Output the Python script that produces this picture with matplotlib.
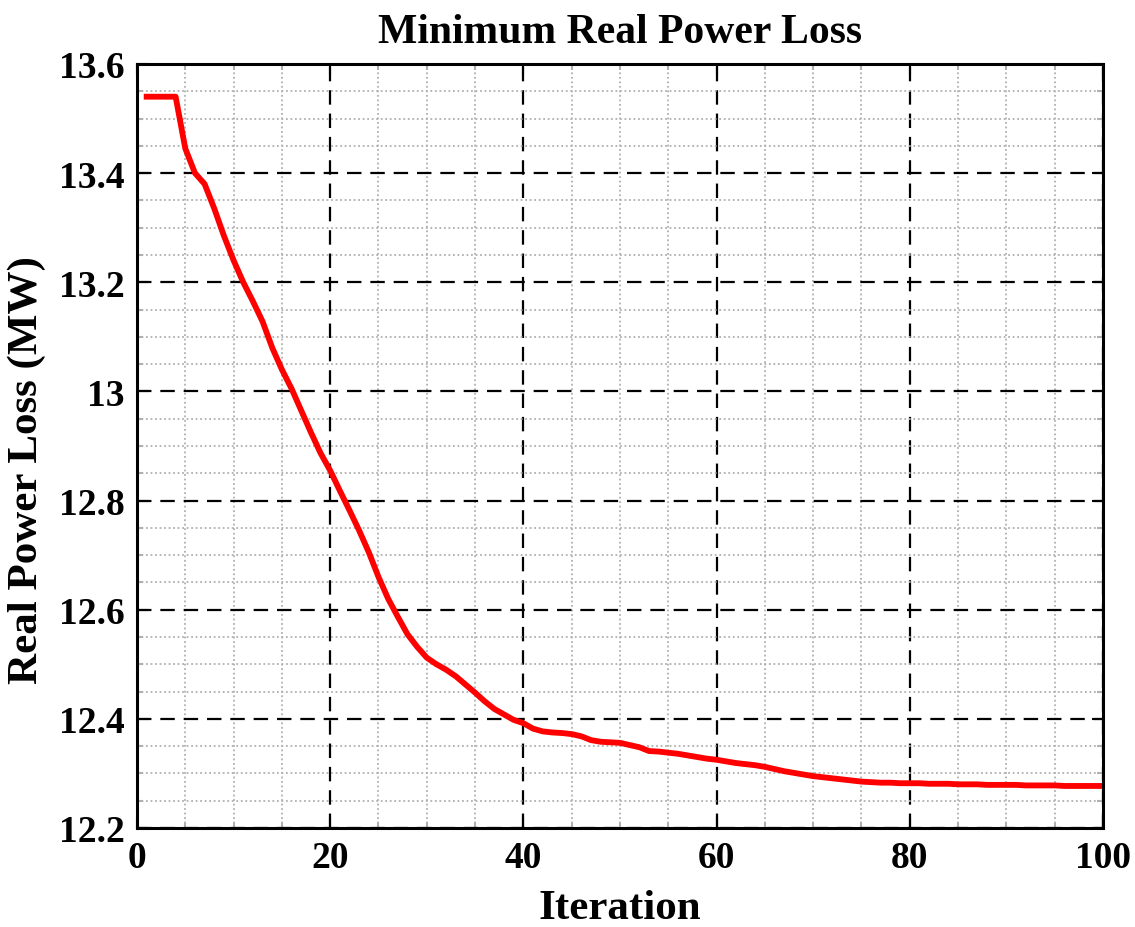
import matplotlib
matplotlib.use("Agg")
import matplotlib.pyplot as plt
import numpy as np
from matplotlib.ticker import MultipleLocator

# Convergence curve
iterations = list(range(1, 101))
power_loss = [
    13.540, 13.540, 13.540, 13.540, 13.445, 13.400, 13.380, 13.335, 13.285, 13.240,
    13.200, 13.165, 13.128, 13.080, 13.040, 13.005, 12.965, 12.925, 12.887, 12.855,
    12.818, 12.782, 12.745, 12.705, 12.660, 12.620, 12.587, 12.555, 12.532, 12.512,
    12.500, 12.490, 12.478, 12.463, 12.448, 12.432, 12.418, 12.408, 12.398, 12.392,
    12.382, 12.377, 12.375, 12.374, 12.372, 12.368, 12.361, 12.358, 12.357, 12.356,
    12.352, 12.348, 12.341, 12.340, 12.338, 12.336, 12.333, 12.330, 12.327, 12.325,
    12.322, 12.319, 12.317, 12.315, 12.312, 12.308, 12.304, 12.301, 12.298, 12.295,
    12.293, 12.291, 12.289, 12.287, 12.285, 12.284, 12.283, 12.283, 12.282, 12.282,
    12.282, 12.281, 12.281, 12.281, 12.280, 12.280, 12.280, 12.279, 12.279, 12.279,
    12.279, 12.278, 12.278, 12.278, 12.278, 12.277, 12.277, 12.277, 12.277, 12.277,
]
x_ticks = [0, 20, 40, 60, 80, 100]
y_ticks = [12.2, 12.4, 12.6, 12.8, 13.0, 13.2, 13.4, 13.6]
y_tick_labels = ["12.2", "12.4", "12.6", "12.8", "13", "13.2", "13.4", "13.6"]

plt.rcParams["font.family"] = ["Liberation Serif", "DejaVu Serif"]
plt.rcParams["font.weight"] = "bold"

fig = plt.figure(figsize=(11.35, 9.28), dpi=100)
ax = fig.add_axes([0.1207, 0.1067, 0.8511, 0.8233])

ax.plot(iterations, power_loss, color="#ff0000", linewidth=4.2, solid_joinstyle="round")

ax.set_xlim(0, 100)
ax.set_ylim(12.2, 13.6)
ax.set_xticks(x_ticks)
ax.set_yticks(y_ticks)
ax.set_yticklabels(y_tick_labels)
ax.xaxis.set_minor_locator(MultipleLocator(5))
ax.yaxis.set_minor_locator(MultipleLocator(0.05))

ax.grid(which="major", color="black", linestyle=(0, (6.5, 4)), linewidth=1.6)
ax.grid(which="minor", color="#b0b0b0", linestyle=(0, (1, 1.5)), linewidth=1.3)
ax.set_axisbelow(True)

ax.tick_params(which="both", direction="in", top=True, right=True,
               labelsize=27, width=1.5, pad=9)
ax.tick_params(which="major", length=8)
ax.tick_params(which="minor", length=4, color="#b0b0b0")
for spine in ax.spines.values():
    spine.set_linewidth(2.2)

ax.set_title("Minimum Real Power Loss", fontsize=30, fontweight="bold", pad=16)
ax.set_xlabel("Iteration", fontsize=31, fontweight="bold", labelpad=10)
ax.set_ylabel("Real Power Loss (MW)", fontsize=31, fontweight="bold")
ax.yaxis.set_label_coords(-0.094, 0.47)

fig.savefig("out.png", dpi=100)
